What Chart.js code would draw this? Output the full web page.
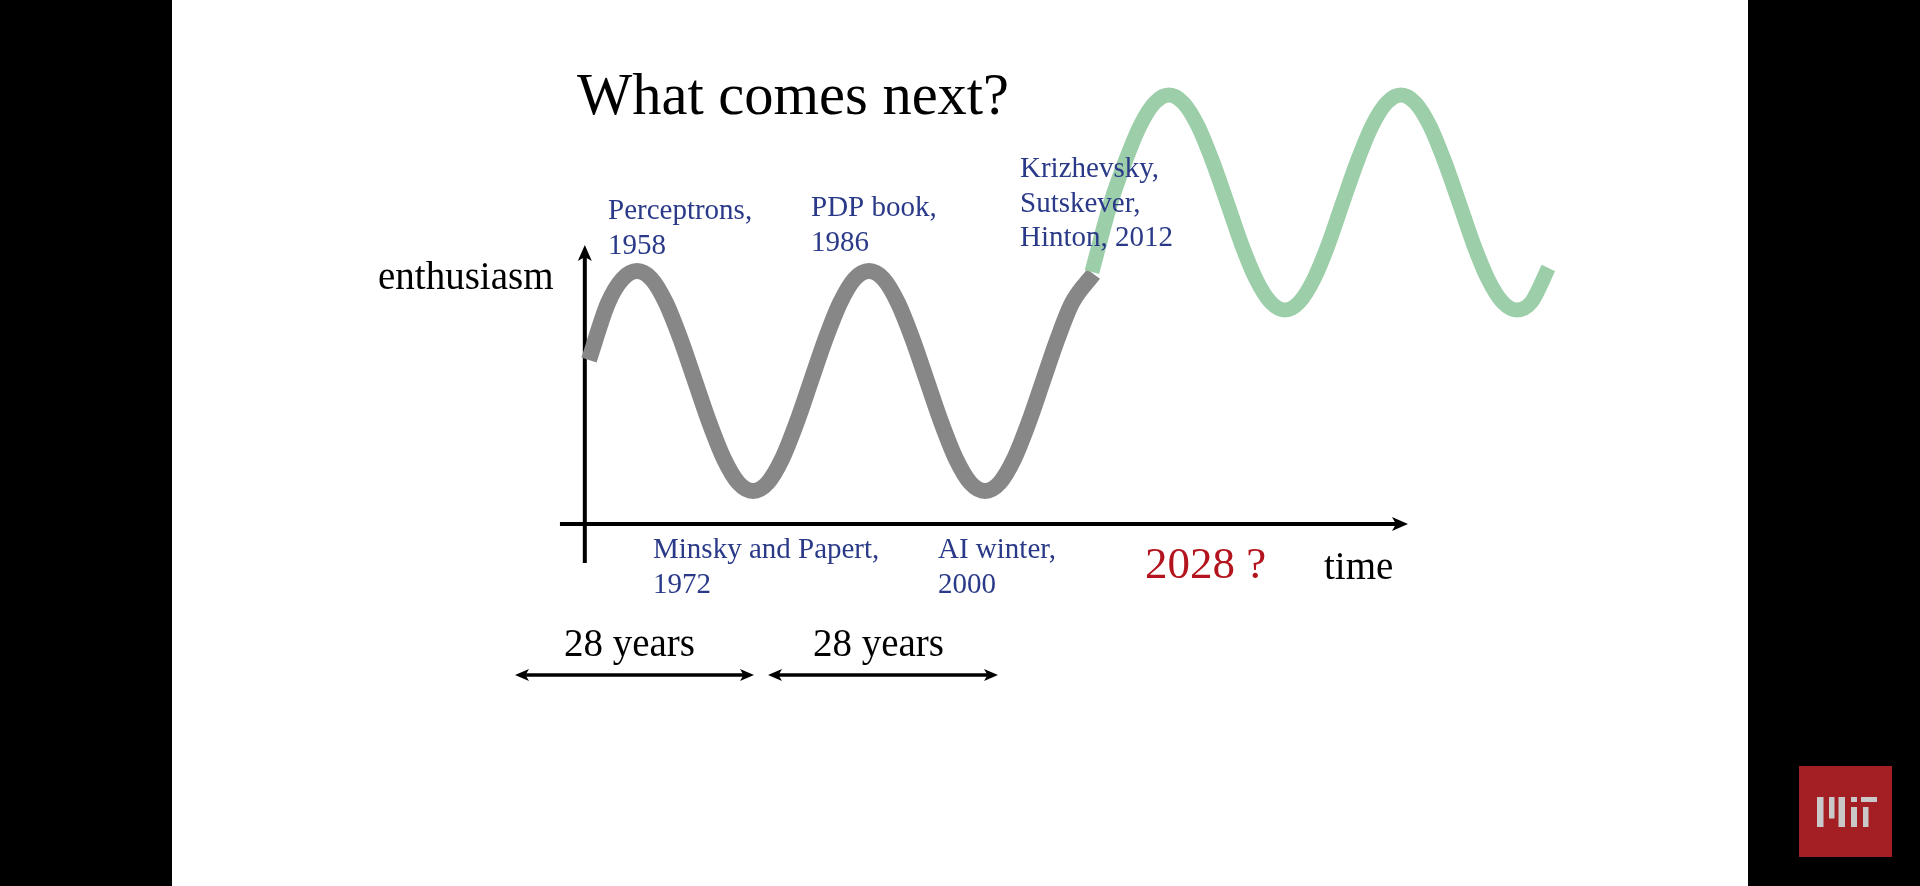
<!DOCTYPE html>
<html>
<head>
<meta charset="utf-8">
<script src="https://cdn.jsdelivr.net/npm/chart.js@4.4.1/dist/chart.umd.min.js"></script>
<style>
  html, body { margin: 0; padding: 0; background: #000; overflow: hidden; }
  #slide { position: absolute; left: 172px; top: 0; width: 1576px; height: 886px; background: #fff; }
  #chart { position: absolute; left: 0; top: 0; }
</style>
</head>
<body>
<div id="slide"></div>
<canvas id="chart" width="1920" height="886"></canvas>
<script>
// the past cycles (gray) - years and enthusiasm
const pastYears = [1952.2, 1954.5, 1956.25, 1958, 1959.75, 1961.5, 1963.25, 1965, 1966.75, 1968.5, 1970.25, 1972,
    1973.75, 1975.5, 1977.25, 1979, 1980.75, 1982.5, 1984.25, 1986, 1987.75, 1989.5, 1991.25, 1993, 1994.75,
    1996.5, 1998.25, 2000, 2001.75, 2003.5, 2005.25, 2007, 2008.75, 2010.5, 2013.1];
const pastValues = [16.4, 22.1, 24.5, 25.3, 24.5, 22.1, 18.5, 14.3, 10.1, 6.5, 4.1, 3.3,
    4.1, 6.5, 10.1, 14.3, 18.5, 22.1, 24.5, 25.3, 24.5, 22.1, 18.5, 14.3, 10.1,
    6.5, 4.1, 3.3, 4.1, 6.5, 10.1, 14.3, 18.5, 22.1, 25.0];

// what comes next (green)
const nextYears = [2012.9, 2015.2, 2016.95, 2018.7, 2020.45, 2022.2, 2023.95, 2025.7, 2027.45, 2029.2, 2030.95,
    2032.7, 2034.45, 2036.2, 2037.95, 2039.7, 2041.45, 2043.2, 2044.95, 2046.7, 2048.45, 2050.2, 2051.95,
    2053.7, 2055.45, 2057.2, 2058.95, 2060.7, 2062.45, 2064.2, 2065.95, 2068];
const nextValues = [25.2, 32.2, 36.3, 39.8, 42.1, 42.9, 42.1, 39.8, 36.3, 32.2, 28.0,
    24.5, 22.2, 21.4, 22.2, 24.5, 28.0, 32.2, 36.3, 39.8, 42.1, 42.9, 42.1,
    39.8, 36.3, 32.2, 28.0, 24.5, 22.2, 21.4, 22.2, 25.6];

// labels on the slide
const peakLabels = [["Perceptrons,", "1958"], ["PDP book,", "1986"], ["Krizhevsky,", "Sutskever,", "Hinton, 2012"]];
const troughLabels = [["Minsky and Papert,", "1972"], ["AI winter,", "2000"]];
const spanLabels = ["28 years", "28 years"];

function toPoints(xs, ys) {
    return xs.map((x, i) => ({ x: x, y: ys[i] }));
}

const serif = '"Liberation Serif", "Times New Roman", serif';

function arrowHead(ctx, x, y, angle, len, half) {
    ctx.save();
    ctx.translate(x, y);
    ctx.rotate(angle);
    ctx.beginPath();
    ctx.moveTo(0, 0);
    ctx.lineTo(-len, -half);
    ctx.lineTo(-len * 0.75, 0);
    ctx.lineTo(-len, half);
    ctx.closePath();
    ctx.fill();
    ctx.restore();
}

// axes with arrows, drawn under the waves
const axesPlugin = {
    id: 'axesPlugin',
    beforeDatasetsDraw(chart) {
        const ctx = chart.ctx;
        const xs = chart.scales.x, ys = chart.scales.y;
        const x0 = xs.getPixelForValue(1951.7);
        const y0 = ys.getPixelForValue(0);
        ctx.save();
        ctx.strokeStyle = '#000';
        ctx.fillStyle = '#000';
        ctx.lineWidth = 4;
        // time axis
        ctx.beginPath();
        ctx.moveTo(xs.getPixelForValue(1948.7), y0);
        ctx.lineTo(xs.getPixelForValue(2051.05) - 8, y0);
        ctx.stroke();
        arrowHead(ctx, xs.getPixelForValue(2051.05), y0, 0, 16, 7);
        // enthusiasm axis
        ctx.beginPath();
        ctx.moveTo(x0, ys.getPixelForValue(-3.9));
        ctx.lineTo(x0, ys.getPixelForValue(27.9) + 8);
        ctx.stroke();
        arrowHead(ctx, x0, ys.getPixelForValue(27.9), -Math.PI / 2, 16, 7);
        ctx.restore();
    }
};

// texts, span arrows and the logo
const slidePlugin = {
    id: 'slidePlugin',
    afterDraw(chart) {
        const ctx = chart.ctx;
        ctx.save();
        ctx.textBaseline = 'alphabetic';
        ctx.textAlign = 'left';

        ctx.fillStyle = '#000';
        ctx.font = '58.5px ' + serif;
        ctx.fillText('What comes next?', 577, 114);

        ctx.font = '39px ' + serif;
        ctx.fillText('enthusiasm', 378, 289);
        ctx.fillText('time', 1324, 579);

        // blue notes
        ctx.fillStyle = '#2a3a88';
        ctx.font = '29px ' + serif;
        const peakPos = [[608, 219], [811, 216], [1020, 177]];
        peakLabels.forEach((lines, i) => {
            lines.forEach((t, j) => ctx.fillText(t, peakPos[i][0], peakPos[i][1] + j * 34.5));
        });
        const troughPos = [[653, 558], [938, 558]];
        troughLabels.forEach((lines, i) => {
            lines.forEach((t, j) => ctx.fillText(t, troughPos[i][0], troughPos[i][1] + j * 34.5));
        });

        ctx.fillStyle = '#b3141e';
        ctx.font = '45px ' + serif;
        ctx.fillText('2028 ?', 1145, 578);

        // 28 years spans
        ctx.fillStyle = '#000';
        ctx.strokeStyle = '#000';
        ctx.font = '39px ' + serif;
        const spans = [[515, 754, 564], [768, 998, 813]];
        spans.forEach((s, i) => {
            ctx.fillText(spanLabels[i], s[2], 656);
            ctx.lineWidth = 3.5;
            ctx.beginPath();
            ctx.moveTo(s[0] + 7, 675);
            ctx.lineTo(s[1] - 7, 675);
            ctx.stroke();
            arrowHead(ctx, s[1], 675, 0, 14, 6);
            arrowHead(ctx, s[0], 675, Math.PI, 14, 6);
        });

        // MIT logo
        ctx.fillStyle = '#a31f24';
        ctx.fillRect(1799, 766, 93, 91);
        ctx.fillStyle = '#c9c9c9';
        ctx.fillRect(1817, 797, 6.5, 30);
        ctx.fillRect(1829, 797, 5.5, 21.5);
        ctx.fillRect(1838.5, 797, 6.5, 30);
        ctx.fillRect(1851, 807, 6, 20);
        ctx.fillRect(1851, 797, 6, 5);
        ctx.fillRect(1861, 797, 16, 5);
        ctx.fillRect(1863, 807, 5.5, 20);
        ctx.restore();
    }
};

const chart = new Chart(document.getElementById('chart'), {
    type: 'line',
    data: {
        datasets: [
            {
                label: 'next',
                data: toPoints(nextYears, nextValues),
                borderColor: '#9ccfa9',
                borderWidth: 15,
                borderCapStyle: 'butt',
                pointRadius: 0,
                cubicInterpolationMode: 'monotone',
                fill: false
            },
            {
                label: 'past',
                data: toPoints(pastYears, pastValues),
                borderColor: '#878787',
                borderWidth: 16,
                borderCapStyle: 'butt',
                pointRadius: 0,
                cubicInterpolationMode: 'monotone',
                fill: false
            }
        ]
    },
    options: {
        responsive: false,
        animation: false,
        layout: { padding: { left: 529.3, right: 355, top: 24, bottom: 362 } },
        scales: {
            x: { type: 'linear', min: 1945, max: 2070, display: false },
            y: { min: 0, max: 50, display: false }
        },
        plugins: {
            legend: { display: false },
            tooltip: { enabled: false }
        }
    },
    plugins: [axesPlugin, slidePlugin]
});
</script>
</body>
</html>
